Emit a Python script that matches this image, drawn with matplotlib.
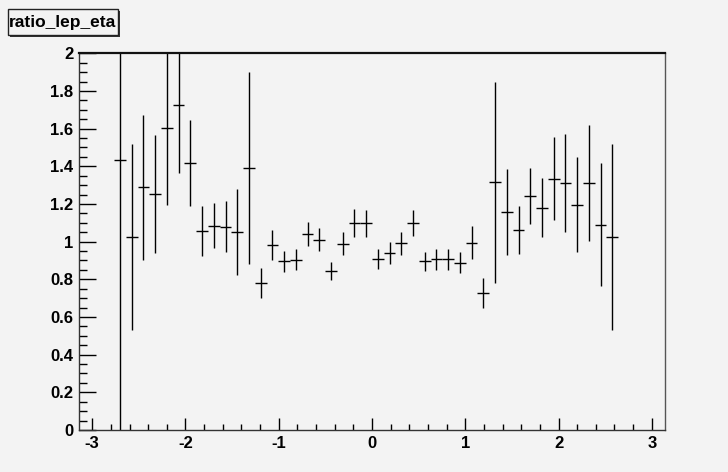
import numpy as np
import matplotlib
matplotlib.use("Agg")
import matplotlib.pyplot as plt
from matplotlib.patches import Rectangle
from matplotlib.ticker import MultipleLocator

plt.rcParams['font.family'] = ['Liberation Sans', 'DejaVu Sans']

title = "ratio_lep_eta"
n_bins = 50
eta_min, eta_max = -np.pi, np.pi
first_bin = 3  # index of first filled bin

ratio = [1.434, 1.023, 1.289, 1.254, 1.603, 1.727, 1.417, 1.057, 1.085, 1.080,
         1.051, 1.390, 0.780, 0.984, 0.895, 0.904, 1.041, 1.011, 0.846, 0.989,
         1.098, 1.098, 0.910, 0.940, 0.991, 1.101, 0.895, 0.906, 0.906, 0.888,
         0.995, 0.729, 1.316, 1.158, 1.062, 1.243, 1.181, 1.333, 1.310, 1.197,
         1.310, 1.090, 1.023]
ratio_err = [1.440, 0.493, 0.385, 0.313, 0.408, 0.364, 0.228, 0.132, 0.120, 0.135,
             0.230, 0.510, 0.078, 0.080, 0.055, 0.057, 0.063, 0.061, 0.047, 0.062,
             0.073, 0.072, 0.053, 0.058, 0.062, 0.069, 0.050, 0.054, 0.057, 0.057,
             0.086, 0.080, 0.533, 0.230, 0.126, 0.150, 0.157, 0.220, 0.260, 0.250,
             0.307, 0.325, 0.493]

edges = np.linspace(eta_min, eta_max, n_bins + 1)
centers_all = 0.5 * (edges[:-1] + edges[1:])
width = edges[1] - edges[0]
centers = centers_all[first_bin:first_bin + len(ratio)]

bg = '#f3f3f3'
fig = plt.figure(figsize=(7.28, 4.72), dpi=100, facecolor=bg)
ax = fig.add_axes([79/728, 42/472, (665-79)/728, (430-53.3)/472])
ax.set_facecolor(bg)

ax.errorbar(centers, ratio, xerr=width/2, yerr=ratio_err, fmt='none',
            ecolor='black', elinewidth=1.0, capsize=0)

ax.set_xlim(eta_min, eta_max)
ax.set_ylim(0, 2)
ax.xaxis.set_minor_locator(MultipleLocator(0.2))
ax.yaxis.set_minor_locator(MultipleLocator(0.05))

ax.set_xticks([-3, -2, -1, 0, 1, 2, 3])
ax.set_xticklabels(['-3', '-2', '-1', '0', '1', '2', '3'])
yt = [0, 0.2, 0.4, 0.6, 0.8, 1.0, 1.2, 1.4, 1.6, 1.8, 2.0]
ax.set_yticks(yt)
ax.set_yticklabels(['0', '0.2', '0.4', '0.6', '0.8', '1', '1.2', '1.4', '1.6', '1.8', '2'])

ax.tick_params(axis='x', which='major', direction='in', length=8.5, width=1,
               labelsize=12, pad=4, top=False)
ax.tick_params(axis='x', which='minor', direction='in', length=4.5, width=1, top=False)
ax.tick_params(axis='y', which='major', direction='in', length=12, width=1,
               labelsize=12, pad=4, right=False)
ax.tick_params(axis='y', which='minor', direction='in', length=6, width=1, right=False)
for lab in ax.get_xticklabels() + ax.get_yticklabels():
    lab.set_fontweight('bold')

for side in ['left', 'bottom']:
    ax.spines[side].set_color('#333333')
    ax.spines[side].set_linewidth(1.0)
ax.spines['right'].set_color('#555555')
ax.spines['right'].set_linewidth(1.0)
ax.spines['top'].set_color('#111111')
ax.spines['top'].set_linewidth(1.6)

# Title box with shadow (ROOT style)
W, H = 728.0, 472.0
bx0, by0, bw, bh = 8, 9, 110, 26
fig.patches.append(Rectangle(((bx0 + 2) / W, 1 - (by0 + bh + 2) / H), bw / W, bh / H,
                             transform=fig.transFigure, facecolor='#333333',
                             edgecolor='none', zorder=1))
fig.patches.append(Rectangle((bx0 / W, 1 - (by0 + bh) / H), bw / W, bh / H,
                             transform=fig.transFigure, facecolor=bg,
                             edgecolor='#222222', linewidth=1.0, zorder=2))
fig.text((bx0 + bw / 2) / W, 1 - (by0 + bh / 2 + 1) / H, title, ha='center', va='center',
         fontsize=12.5, fontweight='bold', color='black', zorder=3)

fig.savefig('out.png', dpi=100, facecolor=bg)
